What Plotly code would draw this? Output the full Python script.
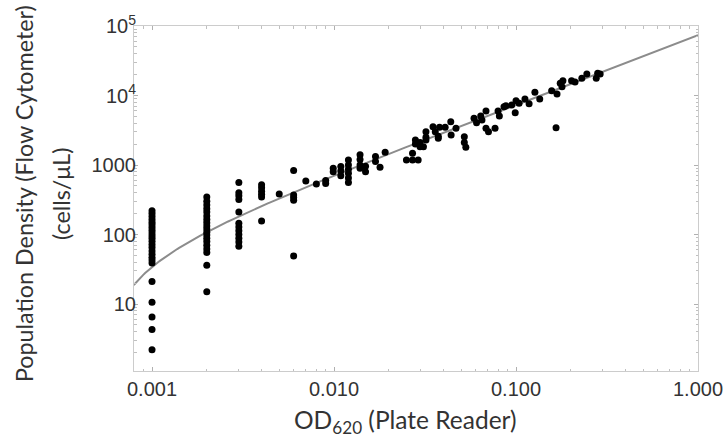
import numpy as np
import plotly.graph_objects as go

# ---- data ----
od620 = (
    [0.001] * 24
    + [0.002] * 19
    + [0.003] * 12
    + [0.004] * 6
    + [0.005]
    + [0.006] * 5
    + [0.007, 0.008, 0.009, 0.009, 0.0099, 0.0099, 0.0109, 0.0109, 0.0109]
    + [0.012] * 6
    + [0.0139] * 4
    + [0.0149, 0.0149, 0.0169, 0.0169, 0.0179, 0.0191]
    + [0.025, 0.027, 0.027, 0.029, 0.028, 0.028, 0.0297, 0.0297, 0.031,
       0.032, 0.032, 0.032, 0.035, 0.036, 0.0374, 0.0374, 0.038, 0.0408,
       0.0438, 0.044, 0.0468, 0.052, 0.052, 0.053]
    + [0.0588, 0.0607, 0.064, 0.065, 0.0684, 0.0684, 0.0706, 0.0767, 0.0797,
       0.081, 0.0859, 0.088, 0.0947, 0.099, 0.1, 0.104, 0.112, 0.118, 0.127,
       0.135, 0.157, 0.168, 0.166, 0.175, 0.181, 0.179, 0.202, 0.211, 0.23,
       0.245, 0.276, 0.281, 0.29]
)
density = (
    [220, 200, 182, 165, 150, 138, 126, 115, 105, 96, 88, 80, 72, 65, 58, 52,
     47, 43, 39, 21, 10.6, 6.5, 4.3, 2.2]
    + [345, 300, 265, 235, 210, 185, 165, 148, 133, 120, 108, 98, 88, 79, 70,
       62, 55, 36, 15]
    + [560, 400, 360, 320, 210, 145, 128, 113, 100, 88, 78, 68]
    + [520, 470, 420, 380, 345, 156]
    + [383]
    + [830, 370, 340, 310, 49]
    + [590, 533, 600, 540, 900, 800, 950, 820, 700]
    + [1180, 1000, 870, 760, 650, 560]
    + [1400, 1200, 1000, 900]
    + [960, 800, 1320, 1120, 927, 1524]
    + [1180, 1180, 1470, 1180, 2290, 2000, 1830, 2100, 1830,
       3010, 2500, 2290, 3550, 3010, 2420, 2600, 3500, 3500,
       4180, 2700, 3370, 2550, 2100, 1800]
    + [4700, 4060, 5070, 4450, 5990, 3370, 3010, 3370, 5990,
       5070, 6900, 7100, 7300, 5650, 8420, 7720, 8910, 7640, 11100,
       8910, 11700, 10500, 3440, 15000, 16300, 13400, 16300, 15600, 17700,
       20400, 17700, 20900, 20400]
)

# linear fit y = slope * x + intercept shown on log-log axes
fit_slope = 74000.0
fit_intercept = -40.0
fit_x = np.logspace(-3.1, 0.0, 300)
fit_y = fit_slope * fit_x + fit_intercept

x_tickvals = [0.001, 0.01, 0.1, 1.0]
x_ticktext = ["0.001", "0.010", "0.100", "1.000"]
y_tickvals = [10, 100, 1000, 1e4, 1e5]
y_ticktext = ["10", "100", "1000", "10<sup>4</sup>", "10<sup>5</sup>"]
x_minor = [m * 10.0 ** e for e in range(-4, 0) for m in range(2, 10)]
y_minor = [m * 10.0 ** e for e in range(0, 5) for m in range(2, 10)]

fig = go.Figure()
fig.add_trace(go.Scatter(x=fit_x, y=fit_y, mode="lines",
                         line=dict(color="#8c8c8c", width=2),
                         hoverinfo="skip", showlegend=False))
fig.add_trace(go.Scatter(x=od620, y=density, mode="markers",
                         marker=dict(color="black", size=7),
                         showlegend=False))

tick_font = dict(family="Liberation Sans, Arial, sans-serif", size=20, color="#333333")
xtitle_font = dict(family="Lato, sans-serif", size=24.5, color="#333333")
ytitle_font = dict(family="Lato, sans-serif", size=23.3, color="#333333")

common = dict(
    type="log",
    ticks="inside", ticklen=4, tickcolor="#b0b0b0", tickwidth=1,
    showline=True, linecolor="#cccccc", linewidth=1, mirror="allticks",
    showgrid=False, zeroline=False, automargin=False,
    tickfont=tick_font,
)
fig.update_xaxes(range=[-3.099, 0.0], tickvals=x_tickvals, ticktext=x_ticktext,
                 minor=dict(tickmode="array", tickvals=x_minor, ticks="inside",
                            ticklen=2.5, tickcolor="#c0c0c0", showgrid=False),
                 **common)
fig.update_yaxes(range=[0.036, 5.0], tickvals=y_tickvals, ticktext=y_ticktext,
                 ticklabelstandoff=-7,
                 minor=dict(tickmode="array", tickvals=y_minor, ticks="inside",
                            ticklen=2.5, tickcolor="#c0c0c0", showgrid=False),
                 **common)

fig.add_annotation(text="OD<sub>620</sub> (Plate Reader)", xref="paper", yref="paper",
                   x=0.482, y=-0.145, xanchor="center", yanchor="middle",
                   showarrow=False, font=xtitle_font)
fig.add_annotation(text="Population Density (Flow Cytometer)", xref="paper", yref="paper",
                   x=-0.195, y=0.513, xanchor="center", yanchor="middle", textangle=-90,
                   showarrow=False, font=ytitle_font)
fig.add_annotation(text="(cells/μL)", xref="paper", yref="paper",
                   x=-0.1294, y=0.513, xanchor="center", yanchor="middle", textangle=-90,
                   showarrow=False, font=ytitle_font)

fig.update_layout(
    width=726, height=439,
    margin=dict(l=134, r=28, t=26, b=68),
    plot_bgcolor="white", paper_bgcolor="white",
)
# remove the browser's default 8px page margin so the figure fills the window
fig.write_html("out.html",
               config={"displayModeBar": False},
               post_script="document.body.style.margin='0';"
                           "document.body.style.overflow='hidden';")
